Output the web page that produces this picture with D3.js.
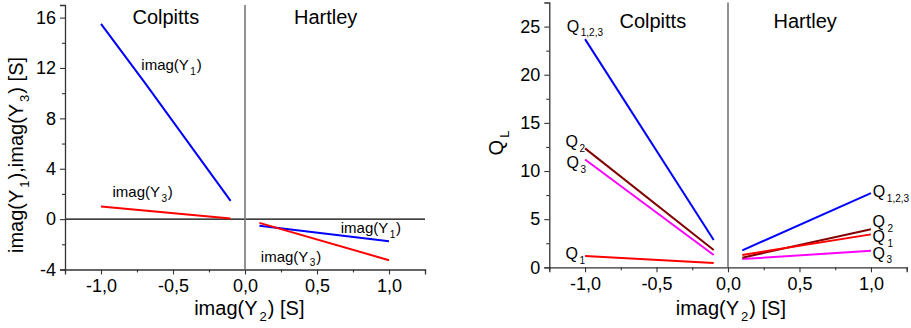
<!DOCTYPE html>
<html>
<head>
<meta charset="utf-8">
<script src="https://cdn.jsdelivr.net/npm/d3@7/dist/d3.min.js"></script>
<style>
  html, body { margin: 0; padding: 0; background: #fff; }
  svg { display: block; font-family: "Liberation Sans", Arial, Helvetica, sans-serif; }
</style>
</head>
<body>
<svg id="chart" width="911" height="328"></svg>
<script>
// imag(Y2) sample points for each oscillator branch
const xColpittsY1 = [-1.0, -0.7, -0.1];
const xColpitts = [-1.0, -0.1];
const xHartley = [0.1, 1.0];

// Left panel: imag(Y1) and imag(Y3) [S]
const y1Colpitts = [15.5, 10.9, 1.45];
const y3Colpitts = [1.0, 0.05];
const y1Hartley = [-0.53, -1.75];
const y3Hartley = [-0.3, -3.26];

// Right panel: loaded quality factors
const q123Colpitts = [23.7, 2.83];
const q2Colpitts = [12.35, 1.8];
const q3Colpitts = [11.2, 1.28];
const q1Colpitts = [1.17, 0.45];
const q123Hartley = [1.76, 7.7];
const q2Hartley = [1.0, 3.95];
const q1Hartley = [1.28, 3.42];
const q3Hartley = [0.85, 1.72];

// Tick values
const xMajorTicks = [-1.0, -0.5, 0.0, 0.5, 1.0];
const xMinorTicks = [-1.25, -0.75, -0.25, 0.25, 0.75, 1.25];
const leftMajorTicks = [-4, 0, 4, 8, 12, 16];
const leftMinorTicks = [-2, 2, 6, 10, 14];
const rightMajorTicks = [0, 5, 10, 15, 20, 25];
const rightMinorTicks = [2.5, 7.5, 12.5, 17.5, 22.5];

const svg = d3.select("#chart");
const fmtComma = d => d3.format(".1f")(d).replace(".", ",").replace("−", "-");
const axisColor = "#333";

function drawAxes(g, x, y, yMajor, yMinor) {
  const [x0] = x.range();
  const [yb, yt] = y.range();
  // bottom axis
  g.append("g").attr("transform", `translate(0,${yb})`)
    .call(d3.axisBottom(x).tickValues(xMajorTicks).tickFormat(fmtComma).tickSize(5).tickPadding(5));
  g.append("g").attr("transform", `translate(0,${yb})`)
    .call(d3.axisBottom(x).tickValues(xMinorTicks).tickFormat("").tickSize(3))
    .select(".domain").remove();
  // left axis
  g.append("g").attr("transform", `translate(${x0},0)`)
    .call(d3.axisLeft(y).tickValues(yMajor).tickFormat(d => String(d).replace("−", "-")).tickSize(5).tickPadding(4));
  g.append("g").attr("transform", `translate(${x0},0)`)
    .call(d3.axisLeft(y).tickValues(yMinor).tickFormat("").tickSize(3))
    .select(".domain").remove();
  g.selectAll(".domain").attr("stroke", axisColor).attr("stroke-width", 1.3);
  g.selectAll(".tick line").attr("stroke", axisColor).attr("stroke-width", 1.1);
  g.selectAll(".tick text").attr("font-size", 18).attr("fill", "#000")
    .attr("font-family", "Liberation Sans, Arial, sans-serif");
  // vertical divider at imag(Y2) = 0
  g.append("line")
    .attr("x1", x(0)).attr("x2", x(0)).attr("y1", yt).attr("y2", yb)
    .attr("stroke", "#777").attr("stroke-width", 1.6);
}

function drawLine(g, x, y, xs, ys, color) {
  const pts = xs.map((d, i) => [d, ys[i]]);
  g.append("path")
    .datum(pts)
    .attr("fill", "none")
    .attr("stroke", color)
    .attr("stroke-width", 2)
    .attr("d", d3.line().x(d => x(d[0])).y(d => y(d[1])));
}

// Text with a subscript, e.g. base="imag(Y", sub="1", tail=")"
function subText(g, px, py, base, sub, tail, size, subSize, anchor, subDx) {
  const t = g.append("text")
    .attr("x", px).attr("y", py)
    .attr("font-size", size)
    .attr("text-anchor", anchor || "start")
    .attr("fill", "#000");
  t.append("tspan").text(base);
  t.append("tspan").attr("font-size", subSize)
    .attr("dx", subDx != null ? subDx : size * 0.1).attr("dy", size * 0.3).text(sub);
  if (tail) t.append("tspan").attr("dy", -size * 0.3).attr("dx", size * 0.05).text(tail);
  return t;
}

// ---------- Left panel ----------
const gl = svg.append("g");
const xl = d3.scaleLinear().domain([-1.25, 1.25]).range([65, 425]);
const yl = d3.scaleLinear().domain([-4, 17]).range([269.5, 5]);

// zero reference line
gl.append("line")
  .attr("x1", xl(-1.25)).attr("x2", xl(1.25))
  .attr("y1", yl(0)).attr("y2", yl(0))
  .attr("stroke", "#000").attr("stroke-width", 1.1);

drawAxes(gl, xl, yl, leftMajorTicks, leftMinorTicks);

drawLine(gl, xl, yl, xColpittsY1, y1Colpitts, "#0000ff");
drawLine(gl, xl, yl, xColpitts, y3Colpitts, "#ff0000");
drawLine(gl, xl, yl, xHartley, y1Hartley, "#0000ff");
drawLine(gl, xl, yl, xHartley, y3Hartley, "#ff0000");

gl.append("text").attr("x", xl(-0.55)).attr("y", 24).attr("text-anchor", "middle")
  .attr("font-size", 20).text("Colpitts");
gl.append("text").attr("x", xl(0.56)).attr("y", 24).attr("text-anchor", "middle")
  .attr("font-size", 20).text("Hartley");

subText(gl, xl(-0.72), yl(11.8), "imag(Y", "1", ")", 15, 10);
subText(gl, xl(-0.92), yl(1.75), "imag(Y", "3", ")", 15, 10);
subText(gl, xl(0.665), yl(-1.11), "imag(Y", "1", ")", 15, 10);
subText(gl, xl(0.11), yl(-3.38), "imag(Y", "3", ")", 15, 10);

// axis titles
subText(gl, xl(0.03), 315, "imag(Y", "2", ") [S]", 20, 13, "middle");
{
  const t = gl.append("text")
    .attr("transform", "translate(22.5,155) rotate(-90)")
    .attr("text-anchor", "middle").attr("font-size", 20);
  t.append("tspan").text("imag(Y");
  t.append("tspan").attr("font-size", 13).attr("dx", 2).attr("dy", 6).text("1");
  t.append("tspan").attr("dy", -6).attr("dx", 1).text("),imag(Y");
  t.append("tspan").attr("font-size", 13).attr("dx", 2).attr("dy", 6).text("3");
  t.append("tspan").attr("dy", -6).attr("dx", 1).text(") [S]");
}

// ---------- Right panel ----------
const gr = svg.append("g");
const xr = d3.scaleLinear().domain([-1.25, 1.25]).range([549.3, 906.7]);
const yr = d3.scaleLinear().domain([0, 27.5]).range([267.3, 2.5]);

drawAxes(gr, xr, yr, rightMajorTicks, rightMinorTicks);

drawLine(gr, xr, yr, xColpitts, q123Colpitts, "#0000ff");
drawLine(gr, xr, yr, xColpitts, q2Colpitts, "#800000");
drawLine(gr, xr, yr, xColpitts, q3Colpitts, "#ff00ff");
drawLine(gr, xr, yr, xColpitts, q1Colpitts, "#ff0000");
drawLine(gr, xr, yr, xHartley, q123Hartley, "#0000ff");
drawLine(gr, xr, yr, xHartley, q3Hartley, "#ff00ff");
drawLine(gr, xr, yr, xHartley, q2Hartley, "#800000");
drawLine(gr, xr, yr, xHartley, q1Hartley, "#ff0000");

gr.append("text").attr("x", xr(-0.526)).attr("y", 28).attr("text-anchor", "middle")
  .attr("font-size", 20).text("Colpitts");
gr.append("text").attr("x", xr(0.54)).attr("y", 28).attr("text-anchor", "middle")
  .attr("font-size", 20).text("Hartley");

subText(gr, xr(-1.128), yr(24.47), "Q", "1,2,3", null, 16, 10);
subText(gr, xr(-1.137), yr(12.52), "Q", "2", null, 16, 10);
subText(gr, xr(-1.13), yr(10.34), "Q", "3", null, 16, 10);
subText(gr, xr(-1.137), yr(0.83), "Q", "1", null, 16, 10);
subText(gr, xr(1.013), yr(7.3), "Q", "1,2,3", null, 16, 10);
subText(gr, xr(1.011), yr(4.15), "Q", "2", null, 16, 10, "start", 2.5);
subText(gr, xr(1.011), yr(2.6), "Q", "1", null, 16, 10, "start", 2.5);
subText(gr, xr(1.011), yr(0.9), "Q", "3", null, 16, 10);

subText(gr, xr(0.02), 315, "imag(Y", "2", ") [S]", 20, 13, "middle");
{
  const t = gr.append("text")
    .attr("transform", "translate(503,143) rotate(-90)")
    .attr("text-anchor", "middle").attr("font-size", 20);
  t.append("tspan").text("Q");
  t.append("tspan").attr("font-size", 13).attr("dx", 2).attr("dy", 6).text("L");
}
</script>
</body>
</html>
